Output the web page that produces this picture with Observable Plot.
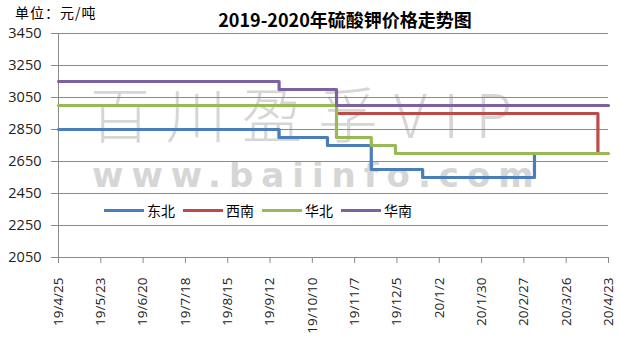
<!DOCTYPE html>
<html><head><meta charset="utf-8">
<script src="https://cdn.jsdelivr.net/npm/d3@7"></script>
<script src="https://cdn.jsdelivr.net/npm/@observablehq/plot@0.6"></script>
<style>
body{margin:0;background:#fff;}
#wrap{position:relative;width:621px;height:338px;overflow:hidden;}
#wm{position:absolute;left:0;top:0;width:621px;height:338px;z-index:0;font-family:"Noto Sans CJK SC";}
#chart{position:absolute;left:0;top:0;z-index:1;}
.over{position:absolute;z-index:2;font-family:"Noto Sans CJK SC";color:#000;white-space:nowrap;line-height:1;}
#title{left:0;width:690px;text-align:center;top:10px;font-size:18px;font-weight:bold;}
#unit{left:15px;top:5px;font-size:14px;letter-spacing:1px;}
#legend{left:104px;top:203px;display:flex;align-items:center;font-size:14px;}
#legend .sw{display:inline-block;width:40px;height:3px;margin-right:3px;}
#legend .lb{margin-right:8px;}
</style></head><body><div id="wrap">
<div id="wm"></div>
<div id="chart"></div>
<div class="over" id="unit"></div>
<div class="over" id="title"></div>
<div class="over" id="legend"></div>
</div>
<script>
const titleText = "2019-2020年硫酸钾价格走势图";
const unitText = "单位：元/吨";
const seriesNames = ["东北", "西南", "华北", "华南"];
const seriesColors = ["#4a7ebb", "#be4b48", "#98b954", "#7d60a0"];

const dongbeiDates = ["2019-04-25", "2019-09-18", "2019-10-20", "2019-11-18", "2019-12-22", "2020-03-05"];
const dongbeiValues = [2850, 2800, 2750, 2600, 2550, 2700];
const xinanDates = ["2019-10-26", "2020-04-16"];
const xinanValues = [2950, 2700];
const huabeiDates = ["2019-04-25", "2019-10-26", "2019-11-18", "2019-12-04", "2020-04-23"];
const huabeiValues = [3000, 2800, 2750, 2700, 2700];
const huananDates = ["2019-04-25", "2019-09-18", "2019-10-26", "2020-04-23"];
const huananValues = [3150, 3100, 3000, 3000];

const yTicks = [2050, 2250, 2450, 2650, 2850, 3050, 3250, 3450];
const xTickDates = ["2019-04-25", "2019-05-23", "2019-06-20", "2019-07-18", "2019-08-15", "2019-09-12", "2019-10-10",
  "2019-11-07", "2019-12-05", "2020-01-02", "2020-01-30", "2020-02-27", "2020-03-26", "2020-04-23"];
const xTickLabels = ["19/4/25", "19/5/23", "19/6/20", "19/7/18", "19/8/15", "19/9/12", "19/10/10",
  "19/11/7", "19/12/5", "20/1/2", "20/1/30", "20/2/27", "20/3/26", "20/4/23"];
const watermarkMain = "百川盈孚VIP";
const watermarkSub = "www.baiinfo.com";

const seriesDates = [dongbeiDates, xinanDates, huabeiDates, huananDates];
const seriesValues = [dongbeiValues, xinanValues, huabeiValues, huananValues];
const rows = [];
seriesNames.forEach((name, i) => {
  seriesDates[i].forEach((d, j) => rows.push({series: name, date: new Date(d), value: seriesValues[i][j]}));
});
const tickDates = xTickDates.map(d => new Date(d));
const labelMap = new Map(tickDates.map((d, i) => [+d, xTickLabels[i]]));

const plot = Plot.plot({
  width: 621, height: 338,
  marginLeft: 58, marginRight: 13, marginTop: 33, marginBottom: 81,
  style: {background: "transparent", fontFamily: "'Open Sans', sans-serif", color: "#222"},
  x: {type: "utc", domain: [tickDates[0], tickDates[tickDates.length - 1]]},
  y: {domain: [2050, 3450]},
  color: {domain: seriesNames, range: seriesColors},
  marks: [
    Plot.ruleY(yTicks, {y: d => d, stroke: "#8a8a8a", strokeWidth: 1}),
    Plot.ruleX([tickDates[0]], {x: d => d, stroke: "#8a8a8a", strokeWidth: 1}),
    Plot.axisY({ticks: yTicks, tickSize: 7, tickPadding: 10, fontSize: 14.5, label: null, stroke: "#8a8a8a", tickFormat: d => String(d)}),
    Plot.axisX({ticks: tickDates, tickSize: 6, tickPadding: 14, tickRotate: -90, fontSize: 13.5, label: null, stroke: "#8a8a8a", tickFormat: d => labelMap.get(+d)}),
    Plot.line(rows, {x: "date", y: "value", z: "series", stroke: "series", curve: "step-after", strokeWidth: 3.2})
  ]
});
document.getElementById("chart").appendChild(plot);

document.getElementById("title").textContent = titleText;
document.getElementById("unit").textContent = unitText;
const lg = document.getElementById("legend");
seriesNames.forEach((n, i) => {
  const s = document.createElement("span"); s.className = "sw"; s.style.background = seriesColors[i]; lg.appendChild(s);
  const t = document.createElement("span"); t.className = "lb"; t.textContent = n; lg.appendChild(t);
});
const wm = document.getElementById("wm");
const w1 = document.createElement("div");
w1.textContent = watermarkMain;
Object.assign(w1.style, {position: "absolute", left: "90px", top: "82px", fontSize: "60px", lineHeight: "1", letterSpacing: "16px", fontWeight: "300", color: "#d6d6d6"});
wm.appendChild(w1);
const w2 = document.createElement("div");
w2.textContent = watermarkSub;
Object.assign(w2.style, {position: "absolute", left: "92px", top: "158px", fontSize: "34px", lineHeight: "1", letterSpacing: "8px", fontWeight: "bold", color: "#d6d6d6", fontFamily: "'DejaVu Sans'"});
wm.appendChild(w2);
</script>
</body></html>
